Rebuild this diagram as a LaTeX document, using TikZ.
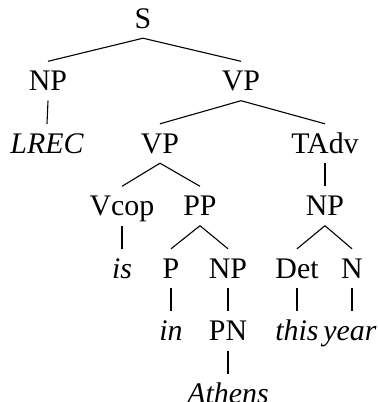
\documentclass[tikz,border=0pt]{standalone}
\usepackage{fontspec}
\setmainfont{Liberation Serif}
\begin{document}
\begin{tikzpicture}[x=1bp,y=-1bp,
  lab/.style={anchor=base, font=\fontsize{30}{34}\selectfont, text height=19bp, text depth=0pt, inner xsep=0pt, inner ysep=10bp},
  leaf/.style={lab, font=\fontsize{30}{34}\selectfont\itshape},
  edge/.style={line width=1.1bp}]
\useasboundingbox (0,0) rectangle (378,402);
\node[lab] (S) at (143,28) {S};
\node[lab] (NPa) at (48,90.5) {NP};
\node[lab] (VPa) at (241,90.5) {VP};
\node[leaf] (lrec) at (47,153) {LREC};
\node[lab] (VPb) at (160,153) {VP};
\node[lab] (TAdv) at (325,153) {TAdv};
\node[lab] (Vcop) at (122,215.5) {Vcop};
\node[lab] (PP) at (200,215.5) {PP};
\node[lab] (NPc) at (325,215.5) {NP};
\node[leaf] (is) at (122,278) {is};
\node[lab] (P) at (171,278) {P};
\node[lab] (NPd) at (228,278) {NP};
\node[lab] (Det) at (297,278) {Det};
\node[lab] (N) at (352,278) {N};
\node[leaf] (in) at (171,340.5) {in};
\node[lab] (PN) at (228,340.5) {PN};
\node[leaf] (this) at (297,340.5) {this};
\node[leaf] (year) at (350,340.5) {year};
\node[leaf] (athens) at (228,403) {Athens};
\draw[edge] (S.south) -- (NPa.north);
\draw[edge] (S.south) -- (VPa.north);
\draw[edge] (NPa.south) -- (lrec.north);
\draw[edge] (VPa.south) -- (VPb.north);
\draw[edge] (VPa.south) -- (TAdv.north);
\draw[edge] (VPb.south) -- (Vcop.north);
\draw[edge] (VPb.south) -- (PP.north);
\draw[edge] (TAdv.south) -- (NPc.north);
\draw[edge] (Vcop.south) -- (is.north);
\draw[edge] (PP.south) -- (P.north);
\draw[edge] (PP.south) -- (NPd.north);
\draw[edge] (NPc.south) -- (Det.north);
\draw[edge] (NPc.south) -- (N.north);
\draw[edge] (P.south) -- (in.north);
\draw[edge] (NPd.south) -- (PN.north);
\draw[edge] (Det.south) -- (this.north);
\draw[edge] (N.south) -- (N.south |- year.north);
\draw[edge] (PN.south) -- (athens.north);
\end{tikzpicture}
\end{document}
